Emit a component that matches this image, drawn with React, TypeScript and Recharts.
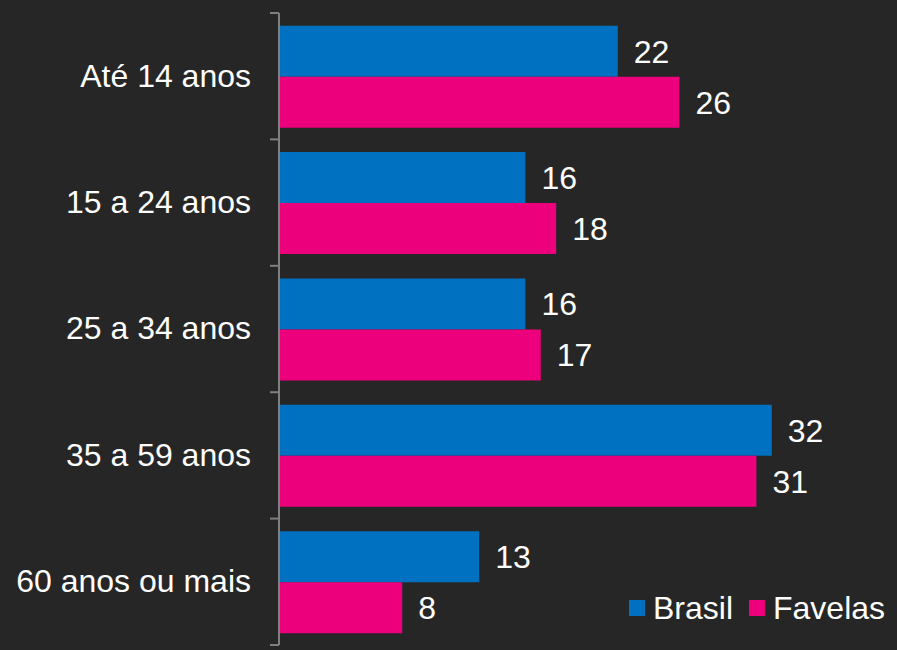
import { BarChart, Bar, XAxis, YAxis, LabelList } from "recharts";

const categories = ["Até 14 anos", "15 a 24 anos", "25 a 34 anos", "35 a 59 anos", "60 anos ou mais"];
const brasil = [22, 16, 16, 32, 13];
const favelas = [26, 18, 17, 31, 8];

const data = categories.map((name, i) => ({ name, brasil: brasil[i], favelas: favelas[i] }));

const W = 897;
const H = 650;
const TOP = 13;
const BOTTOM = 5;
const AXIS_X = 279;
const FONT = "'Liberation Sans', Arial, sans-serif";
const FS = 32;
const BLUE = "#0070C0";
const PINK = "#EC007C";
const band = (H - TOP - BOTTOM) / categories.length;

const CategoryTick = (props: any) => {
  const { y, payload, index } = props;
  return (
    <g>
      <text x={AXIS_X - 28} y={y + 2} textAnchor="end" dominantBaseline="middle" fill="#fff" fontSize={FS} fontFamily={FONT}>
        {payload.value}
      </text>
      <line x1={AXIS_X - 9} x2={AXIS_X} y1={y - band / 2} y2={y - band / 2} stroke="#7f7f7f" strokeWidth={2} />
      {index === categories.length - 1 && (
        <line x1={AXIS_X - 9} x2={AXIS_X} y1={y + band / 2} y2={y + band / 2} stroke="#7f7f7f" strokeWidth={2} />
      )}
    </g>
  );
};

export default function App() {
  return (
    <div style={{ position: "absolute", left: 0, top: 0, width: W, height: H, background: "#262626" }}>
      <BarChart
        width={W}
        height={H}
        data={data}
        layout="vertical"
        margin={{ top: TOP, right: 79, bottom: BOTTOM, left: 0 }}
        barCategoryGap="10%"
        barGap={0}
      >
        <XAxis type="number" domain={[0, 35]} hide />
        <YAxis
          type="category"
          dataKey="name"
          width={AXIS_X}
          axisLine={{ stroke: "#7f7f7f", strokeWidth: 2 }}
          tickLine={false}
          tick={<CategoryTick />}
        />
        <Bar dataKey="brasil" name="Brasil" fill={BLUE} isAnimationActive={false}>
          <LabelList dataKey="brasil" position="right" offset={16} fill="#fff" fontSize={FS} fontFamily={FONT} />
        </Bar>
        <Bar dataKey="favelas" name="Favelas" fill={PINK} isAnimationActive={false}>
          <LabelList dataKey="favelas" position="right" offset={16} fill="#fff" fontSize={FS} fontFamily={FONT} />
        </Bar>
      </BarChart>
      <div
        style={{
          position: "absolute",
          left: 629,
          top: 589,
          display: "flex",
          alignItems: "center",
          fontFamily: FONT,
          fontSize: FS,
          color: "#fff",
          lineHeight: "38px",
        }}
      >
        <span style={{ width: 16, height: 16, background: BLUE, display: "inline-block", marginRight: 8 }} />
        <span style={{ marginRight: 16 }}>Brasil</span>
        <span style={{ width: 16, height: 16, background: PINK, display: "inline-block", marginRight: 8 }} />
        <span>Favelas</span>
      </div>
    </div>
  );
}
